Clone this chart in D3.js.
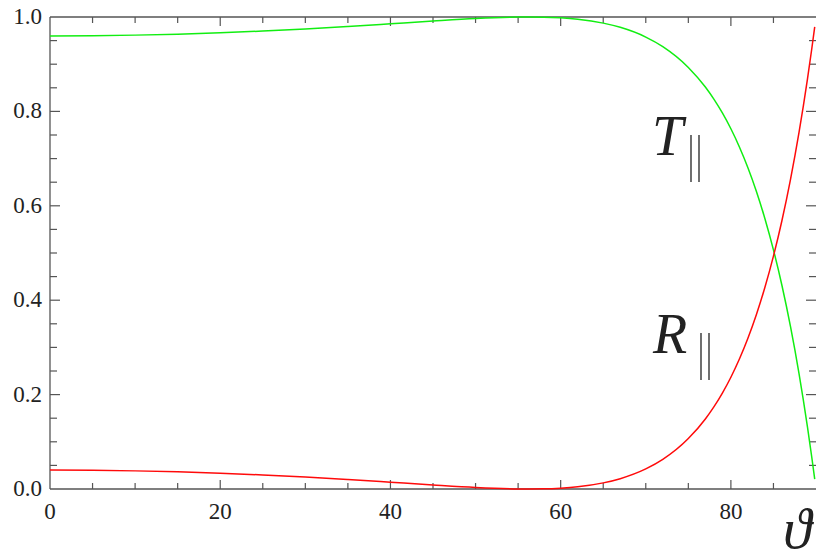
<!DOCTYPE html>
<html>
<head>
<meta charset="utf-8">
<script src="https://cdn.jsdelivr.net/npm/d3@7"></script>
</head>
<body style="margin:0">
<svg></svg>
<script>
const width = 823;
const height = 560;

// angle of incidence (degrees)
const angles = [0, 5, 10, 15, 20, 25, 30, 35, 40, 45, 50, 55, 56.3, 58, 60, 62, 65, 67, 70, 72, 75, 77, 78, 79, 80, 81, 82, 83, 84, 85, 86, 87, 88, 89, 89.5, 89.85];
// R parallel (red)
const reflect = [0.040, 0.0396, 0.0384, 0.0363, 0.0335, 0.0298, 0.0253, 0.0200, 0.0143, 0.0085, 0.0033, 0.0002, 0.0, 0.0003, 0.0018, 0.0047, 0.0130, 0.0219, 0.0425, 0.0627, 0.1068, 0.1484, 0.1740, 0.2033, 0.2368, 0.2753, 0.3193, 0.3696, 0.4273, 0.4933, 0.5688, 0.6555, 0.7548, 0.8689, 0.9322, 0.9791];
// T parallel (green)
const transmit = [0.960, 0.9604, 0.9616, 0.9637, 0.9665, 0.9702, 0.9747, 0.9800, 0.9857, 0.9915, 0.9967, 0.9998, 1.0, 0.9997, 0.9982, 0.9953, 0.9870, 0.9781, 0.9575, 0.9373, 0.8932, 0.8516, 0.8260, 0.7967, 0.7632, 0.7247, 0.6807, 0.6304, 0.5727, 0.5067, 0.4312, 0.3445, 0.2452, 0.1311, 0.0678, 0.0209];

const xTicks = [0, 20, 40, 60, 80];
const yTicks = [0.0, 0.2, 0.4, 0.6, 0.8, 1.0];

const margin = { left: 50, right: 7, top: 17, bottom: 71 };
const svg = d3.select("svg").attr("width", width).attr("height", height);

const x = d3.scaleLinear().domain([0, 90]).range([margin.left, width - margin.right]);
const y = d3.scaleLinear().domain([0, 1]).range([height - margin.bottom, margin.top]);

const frame = "#555";

// frame lines (left, bottom, top)
svg.append("line").attr("x1", x(0)).attr("x2", x(0)).attr("y1", y(0)).attr("y2", y(1))
  .attr("stroke", frame).attr("stroke-width", 1.3);
svg.append("line").attr("x1", x(0)).attr("x2", x(90)).attr("y1", y(0)).attr("y2", y(0))
  .attr("stroke", frame).attr("stroke-width", 1.3);
svg.append("line").attr("x1", x(0)).attr("x2", x(90)).attr("y1", y(1)).attr("y2", y(1))
  .attr("stroke", frame).attr("stroke-width", 1.3);

// ticks, pointing inward
const xMinor = d3.range(5, 90, 5);
const yMinor = d3.range(0.05, 1.0, 0.05);
xMinor.forEach((v) => {
  const len = v % 20 === 0 ? 9 : 6;
  svg.append("line").attr("x1", x(v)).attr("x2", x(v)).attr("y1", y(0)).attr("y2", y(0) - len)
    .attr("stroke", frame).attr("stroke-width", 1.2);
  svg.append("line").attr("x1", x(v)).attr("x2", x(v)).attr("y1", y(1)).attr("y2", y(1) + len)
    .attr("stroke", frame).attr("stroke-width", 1.2);
});
yMinor.forEach((v) => {
  const major = Math.abs(v * 5 - Math.round(v * 5)) < 1e-6;
  const len = major ? 10 : 7;
  svg.append("line").attr("x1", x(0)).attr("x2", x(0) + len).attr("y1", y(v)).attr("y2", y(v))
    .attr("stroke", frame).attr("stroke-width", 1.2);
  svg.append("line").attr("x1", x(90)).attr("x2", x(90) - len).attr("y1", y(v)).attr("y2", y(v))
    .attr("stroke", frame).attr("stroke-width", 1.2);
});

// tick labels
xTicks.forEach((d) => {
  svg.append("text").attr("x", x(d)).attr("y", y(0) + 30)
    .style("font-family", "Liberation Serif").style("font-size", "23px")
    .style("text-anchor", "middle").style("fill", "#222")
    .text(String(d));
});
yTicks.forEach((d) => {
  svg.append("text").attr("x", x(0) - 8).attr("y", y(d) + 7)
    .style("font-family", "Liberation Serif").style("font-size", "23px")
    .style("text-anchor", "end").style("fill", "#222")
    .text(d.toFixed(1));
});

// curves
const pts = (vals) => angles.map((a, i) => [a, vals[i]]);
const line = d3.line().x((d) => x(d[0])).y((d) => y(d[1])).curve(d3.curveMonotoneX);

svg.append("path").datum(pts(transmit)).attr("d", line)
  .attr("fill", "none").attr("stroke", "#11ee11").attr("stroke-width", 1.5);
svg.append("path").datum(pts(reflect)).attr("d", line)
  .attr("fill", "none").attr("stroke", "#ff0a0a").attr("stroke-width", 1.5);

// curve labels with the parallel-bar subscript
function curveLabel(letter, lx, ly, barX) {
  svg.append("text").attr("x", lx).attr("y", ly)
    .style("font-family", "Liberation Serif").style("font-size", "56px")
    .style("font-style", "italic").style("fill", "#222")
    .text(letter);
  [0, 8].forEach((dx) => {
    svg.append("line").attr("x1", barX + dx).attr("x2", barX + dx)
      .attr("y1", ly - 20).attr("y2", ly + 27)
      .attr("stroke", "#333").attr("stroke-width", 1.4);
  });
}
curveLabel("T", 652, 155, 691);
curveLabel("R", 653, 353, 701);

// axis label
svg.append("text").attr("x", 783).attr("y", 548)
  .style("font-family", "Liberation Serif").style("font-size", "58px")
  .style("font-style", "italic").style("fill", "#222")
  .text("ϑ");
</script>
</body>
</html>
